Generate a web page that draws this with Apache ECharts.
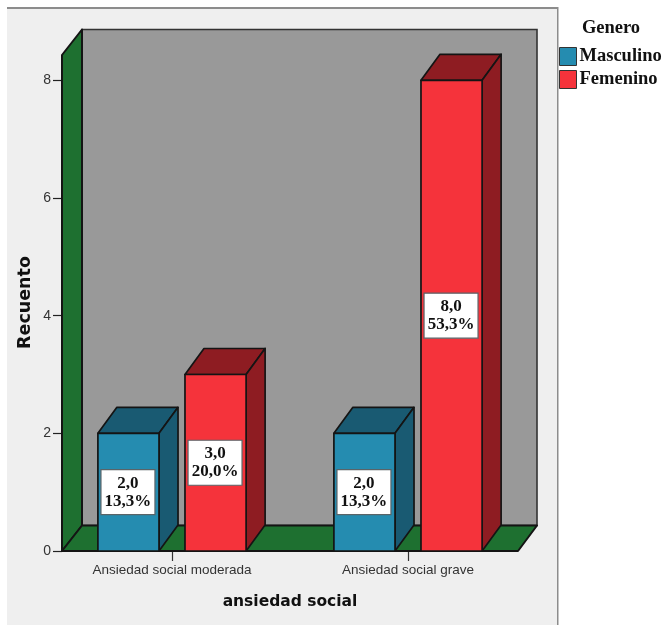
<!DOCTYPE html>
<html>
<head>
<meta charset="utf-8">
<style>html,body{margin:0;padding:0;background:#fff}#chart{width:663px;height:625px}</style>
<script src="https://cdn.jsdelivr.net/npm/echarts@6/dist/echarts.min.js"></script>
</head>
<body>
<div id="chart"></div>
<script>
const categories = ['Ansiedad social moderada', 'Ansiedad social grave'];
const masculino = [2, 2];
const femenino = [3, 8];
const masculinoPct = ['13,3%', '13,3%'];
const femeninoPct = ['20,0%', '53,3%'];
const yTicks = [0, 2, 4, 6, 8];
const yTop = 8.43;

// Oblique projection used for the walls and the bar sides
const wallDepth = { x: 20, y: 25.5 };
const barDepth = { x: 19, y: 26 };
const axisInset = 8;
const barShare = 0.259;
const gapShare = 0.11;
const outline = '#141414';

function prism(x, yBase, yTop, w, front, top, side) {
  const d = barDepth;
  const line = { stroke: outline, lineWidth: 1.7, lineJoin: 'round' };
  return [
    { type: 'polygon', shape: { points: [[x, yTop], [x + w, yTop], [x + w + d.x, yTop - d.y], [x + d.x, yTop - d.y]] }, style: { fill: top, ...line } },
    { type: 'polygon', shape: { points: [[x + w, yTop], [x + w + d.x, yTop - d.y], [x + w + d.x, yBase - d.y], [x + w, yBase]] }, style: { fill: side, ...line } },
    { type: 'rect', shape: { x, y: yTop, width: w, height: yBase - yTop }, style: { fill: front, ...line } }
  ];
}

function valueBox(cx, cy, text) {
  return [
    { type: 'rect', shape: { x: cx - 27, y: cy - 22.5, width: 54, height: 45 }, style: { fill: '#fff', stroke: '#5a6468', lineWidth: 1.2 } },
    { type: 'text', style: { x: cx, y: cy, text, fill: '#111', align: 'center', verticalAlign: 'middle', font: 'bold 17px "Liberation Serif"', lineHeight: 18 } }
  ];
}

function barSeries(name, values, pct, slot, front, top, side) {
  return {
    type: 'custom',
    name,
    itemStyle: { color: front },
    data: values.map((v, i) => [i, v]),
    encode: { x: 0, y: 1 },
    z: 3,
    renderItem(params, api) {
      const i = api.value(0);
      const v = api.value(1);
      const band = api.size([1, 0])[0];
      const w = band * barShare;
      const gap = band * gapShare;
      const center = api.coord([i, 0])[0];
      const left = center - w - gap / 2 + slot * (w + gap);
      const yBase = api.coord([i, 0])[1];
      const yVal = api.coord([i, v])[1];
      const label = v.toFixed(1).replace('.', ',') + '\n' + pct[i];
      return {
        type: 'group',
        children: prism(left, yBase, yVal, w, front, top, side)
          .concat(valueBox(left + w / 2 - 0.5, (yBase + yVal) / 2, label))
      };
    }
  };
}

const frameSeries = {
  type: 'custom',
  silent: true,
  data: [[0, 0]],
  encode: { x: 0, y: 1 },
  z: 1,
  renderItem(params, api) {
    const cs = params.coordSys;
    const l = cs.x + axisInset;
    const r = cs.x + cs.width - axisInset;
    const b = cs.y + cs.height;
    const t = cs.y;
    const dx = wallDepth.x;
    const dy = wallDepth.y;
    const line = { stroke: outline, lineWidth: 2, lineJoin: 'round' };
    return {
      type: 'group',
      children: [
        { type: 'rect', shape: { x: l + dx, y: t - dy, width: r - l - 1, height: b - t }, style: { fill: '#999999', stroke: '#333', lineWidth: 1.6 } },
        { type: 'polygon', shape: { points: [[l, b], [l + dx, b - dy], [l + dx, t - dy], [l, t]] }, style: { fill: '#1e7030', ...line } },
        { type: 'polygon', shape: { points: [[l, b], [r, b], [r + dx - 1, b - dy], [l + dx, b - dy]] }, style: { fill: '#1e7030', ...line } }
      ]
    };
  }
};

const chart = echarts.init(document.getElementById('chart'), null, { renderer: 'canvas' });
chart.setOption({
  animation: false,
  backgroundColor: '#ffffff',
  grid: { left: 54, right: 137, top: 55, bottom: 74, containLabel: false },
  graphic: [
    { type: 'rect', z: -10, silent: true, shape: { x: 7, y: 8, width: 550, height: 617 }, style: { fill: '#efefef' } },
    { type: 'rect', z: -9, silent: true, shape: { x: 7, y: 7, width: 551, height: 2 }, style: { fill: '#8c8c8c' } },
    { type: 'rect', z: -9, silent: true, shape: { x: 557, y: 7, width: 1.5, height: 618 }, style: { fill: '#8c8c8c' } },
    { type: 'text', z: 10, style: { x: 611, y: 28, text: 'Genero', align: 'center', verticalAlign: 'middle', fill: '#111', font: 'bold 18.5px "Liberation Serif"' } },
    { type: 'text', z: 10, style: { x: 25.5, y: 302.5, text: 'Recuento', align: 'center', verticalAlign: 'middle', fill: '#111', font: 'bold 17.5px "DejaVu Sans"' }, rotation: Math.PI / 2, originX: 25.5, originY: 302.5 },
    { type: 'text', z: 10, style: { x: 290, y: 601.5, text: 'ansiedad social', align: 'center', verticalAlign: 'middle', fill: '#111', font: 'bold 15.5px "DejaVu Sans"' } }
  ],
  legend: {
    data: ['Masculino', 'Femenino'],
    orient: 'vertical',
    left: 554,
    top: 40,
    itemGap: 0,
    itemWidth: 17,
    itemHeight: 18,
    icon: 'rect',
    selectedMode: false,
    itemStyle: { borderColor: '#333', borderWidth: 1 },
    textStyle: { fontFamily: 'Liberation Serif', fontWeight: 'bold', fontSize: 18.5, lineHeight: 23, color: '#111', padding: [0, 0, 0, -2] }
  },
  xAxis: {
    type: 'category',
    data: categories,
    axisLine: { show: false },
    axisTick: { show: true, alignWithLabel: true, length: 10, lineStyle: { color: '#333', width: 1.2 } },
    axisLabel: { margin: 12, fontFamily: 'Liberation Sans', fontSize: 13.5, color: '#333' }
  },
  yAxis: {
    type: 'value',
    min: 0,
    max: yTop,
    offset: -axisInset,
    splitLine: { show: false },
    axisLine: { show: false },
    axisTick: { show: true, length: 9, customValues: yTicks, lineStyle: { color: '#222', width: 1.2 } },
    axisLabel: { margin: 11, customValues: yTicks, fontFamily: 'Liberation Sans', fontSize: 14, color: '#333' }
  },
  series: [
    frameSeries,
    barSeries('Masculino', masculino, masculinoPct, 0, '#258cb0', '#195a72', '#195a72'),
    barSeries('Femenino', femenino, femeninoPct, 1, '#f5333b', '#8e1c22', '#8e1c22')
  ]
});
</script>
</body>
</html>
